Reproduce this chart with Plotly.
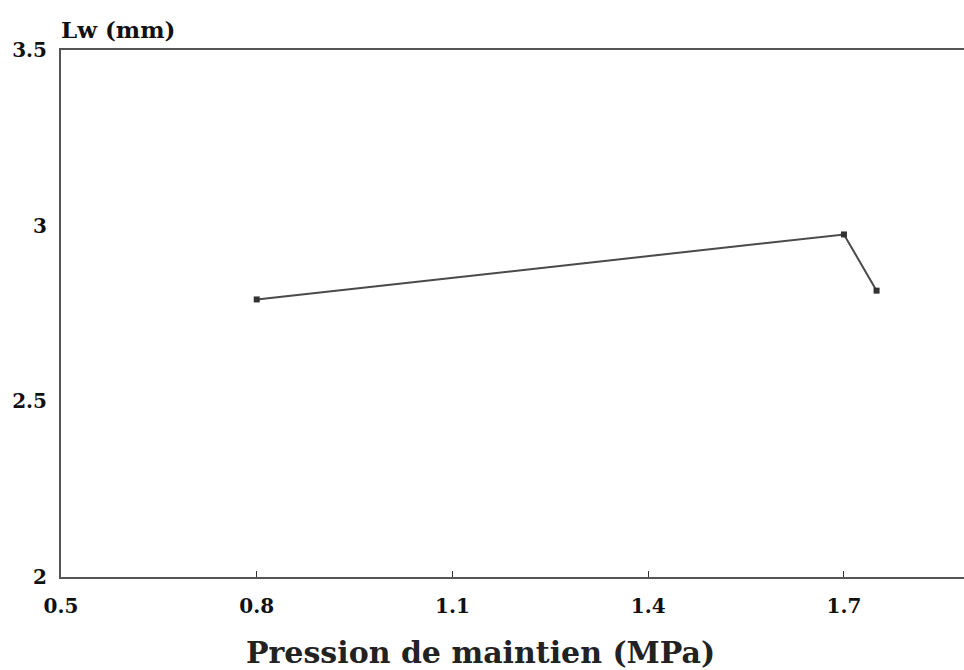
import plotly.graph_objects as go

pression = [0.8, 1.7, 1.75]
lw = [2.79, 2.975, 2.815]
xticks = [0.5, 0.8, 1.1, 1.4, 1.7]
yticks = [2, 2.5, 3, 3.5]
ytick_text = ["2", "2.5", "3", "3.5"]

fig = go.Figure()
fig.add_trace(go.Scatter(
    x=pression, y=lw, mode="lines+markers",
    line=dict(color="#4a4a4a", width=2),
    marker=dict(symbol="square", size=6, color="#333333"),
    showlegend=False,
))

font_serif = "DejaVu Serif"
fig.update_layout(
    width=964, height=670,
    margin=dict(l=61, r=0, t=50, b=93),
    paper_bgcolor="white", plot_bgcolor="white",
    font=dict(family=font_serif, color="#111111"),
    xaxis=dict(
        range=[0.5, 1.884], tickvals=xticks, ticktext=[f"<b>{v}</b>" for v in xticks],
        ticks="inside", ticklen=6, tickcolor="#333", tickwidth=1,
        showline=True, linecolor="#555", linewidth=2, mirror=True,
        showgrid=False, zeroline=False,
        tickfont=dict(size=20, family=font_serif), ticklabelstandoff=10,
    ),
    yaxis=dict(
        range=[2, 3.5], tickvals=yticks, ticktext=[f"<b>{t}</b>" for t in ytick_text],
        ticks="", showline=True, linecolor="#555", linewidth=2,
        showgrid=False, zeroline=False,
        tickfont=dict(size=20, family=font_serif), ticklabelstandoff=8,
    ),
    annotations=[
        dict(
            text="<b>Lw (mm)</b>", xref="paper", yref="paper", x=0, y=1,
            xanchor="left", yanchor="bottom", yshift=5, xshift=-2, showarrow=False,
            font=dict(size=23, family=font_serif),
        ),
        dict(
            text="<b>Pression de maintien (MPa)</b>", xref="paper", yref="paper",
            x=0.465, y=0, xanchor="center", yanchor="middle", yshift=-75,
            showarrow=False, font=dict(size=30, family=font_serif, color="#222"),
        ),
    ],
)

fig.write_html("out.html")
